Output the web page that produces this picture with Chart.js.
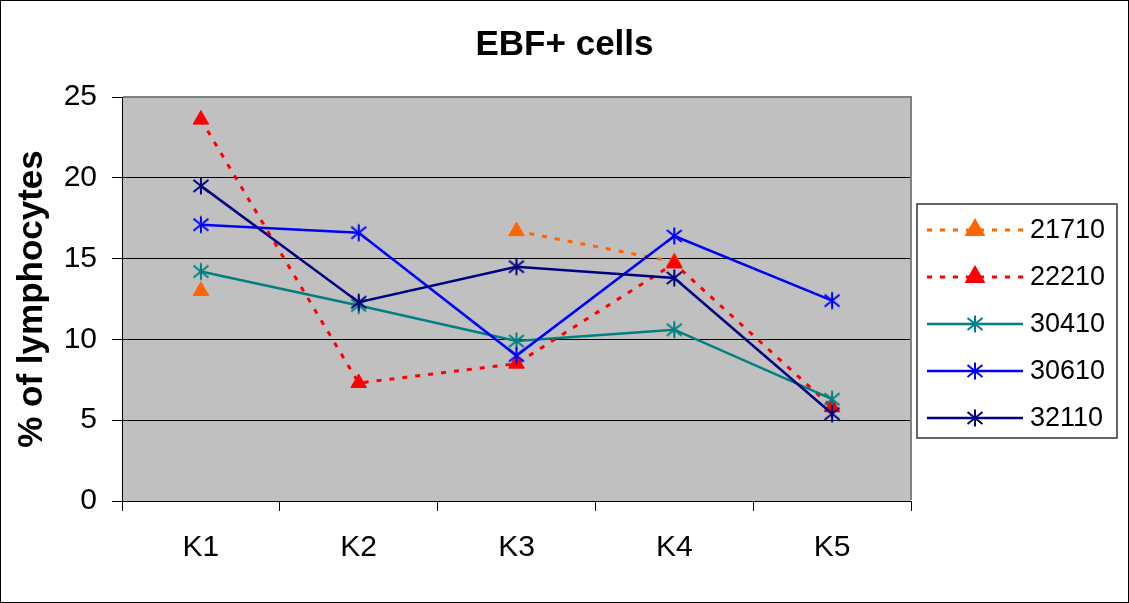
<!DOCTYPE html>
<html>
<head>
<meta charset="utf-8">
<script src="https://cdn.jsdelivr.net/npm/chart.js@4.4.1/dist/chart.umd.min.js"></script>
<style>
    html, body { margin: 0; padding: 0; background: #fff; }
</style>
</head>
<body>
<canvas id="myChart" width="1129" height="603"></canvas>
<script>
// data
const categories = ['K1', 'K2', 'K3', 'K4', 'K5'];
const seriesNames = ['21710', '22210', '30410', '30610', '32110'];
const s21710 = [13.0, null, 16.7, 14.8, null];
const s22210 = [23.6, 7.3, 8.5, 14.7, 5.8];
const s30410 = [14.2, 12.1, 9.9, 10.6, 6.3];
const s30610 = [17.1, 16.6, 9.0, 16.4, 12.4];
const s32110 = [19.5, 12.3, 14.5, 13.8, 5.4];
const yTicks = [0, 5, 10, 15, 20, 25];

const FONT = '"Liberation Sans", Arial, sans-serif';

// excel style asterisk marker (X plus a vertical bar)
function asterisk(color) {
    const c = document.createElement('canvas');
    c.width = 20;
    c.height = 20;
    const g = c.getContext('2d');
    g.strokeStyle = color;
    g.lineWidth = 2;
    g.beginPath();
    g.moveTo(2.5, 4); g.lineTo(17.5, 16);
    g.moveTo(2.5, 16); g.lineTo(17.5, 4);
    g.moveTo(10, 1.5); g.lineTo(10, 18.5);
    g.stroke();
    return c;
}

function dotted(label, data, color) {
    return {
        label: label,
        data: data,
        borderColor: color,
        backgroundColor: color,
        borderWidth: 3,
        borderDash: [5, 8],
        pointStyle: 'triangle',
        pointRadius: 9,
        pointBorderWidth: 1,
        pointBorderColor: color,
        pointBackgroundColor: color,
        spanGaps: false
    };
}

function solid(label, data, color) {
    return {
        label: label,
        data: data,
        borderColor: color,
        backgroundColor: color,
        borderWidth: 2.5,
        pointStyle: asterisk(color),
        pointRadius: 10,
        spanGaps: false
    };
}

const datasets = [
    dotted(seriesNames[0], s21710, '#FF6600'),
    dotted(seriesNames[1], s22210, '#FF0000'),
    solid(seriesNames[2], s30410, '#008080'),
    solid(seriesNames[3], s30610, '#0000FF'),
    solid(seriesNames[4], s32110, '#000080')
];
// later series on top, like the original
datasets.forEach((d, i) => { d.order = datasets.length - 1 - i; });

const frame = {
    id: 'frame',
    beforeDraw(chart) {
        const ctx = chart.ctx;
        const a = chart.chartArea;
        ctx.save();
        ctx.fillStyle = '#fff';
        ctx.fillRect(0, 0, chart.width, chart.height);
        ctx.fillStyle = '#C0C0C0';
        ctx.fillRect(a.left, a.top, a.right - a.left, a.bottom - a.top);
        ctx.restore();
    },
    afterDraw(chart) {
        const ctx = chart.ctx;
        const a = chart.chartArea;
        ctx.save();
        // plot border top / right
        ctx.strokeStyle = '#808080';
        ctx.lineWidth = 2;
        ctx.beginPath();
        ctx.moveTo(a.left + 1, a.top);
        ctx.lineTo(a.right, a.top);
        ctx.lineTo(a.right, a.bottom - 1);
        ctx.stroke();
        // outer border
        ctx.strokeStyle = '#000';
        ctx.lineWidth = 1;
        ctx.strokeRect(0.5, 0.5, chart.width - 1, chart.height - 1);

        // legend box
        const lx = 917, ly = 204, lw = 200, lh = 234;
        ctx.strokeStyle = '#333';
        ctx.lineWidth = 1.5;
        ctx.strokeRect(lx, ly, lw, lh);
        chart.data.datasets.forEach((d, i) => {
            const y = 230 + i * 47;
            ctx.strokeStyle = d.borderColor;
            ctx.lineWidth = d.borderWidth;
            ctx.setLineDash(d.borderDash || []);
            ctx.beginPath();
            ctx.moveTo(927, y);
            ctx.lineTo(1023, y);
            ctx.stroke();
            ctx.setLineDash([]);
            ctx.fillStyle = d.borderColor;
            Chart.helpers.drawPoint(ctx, {
                pointStyle: d.pointStyle,
                radius: d.pointRadius,
                rotation: 0,
                borderWidth: d.pointBorderWidth || 0
            }, 975, y);
            ctx.fillStyle = '#000';
            ctx.font = '27px ' + FONT;
            ctx.textAlign = 'left';
            ctx.textBaseline = 'middle';
            ctx.fillText(d.label, 1030, y + 1);
        });
        ctx.restore();
    }
};

new Chart(document.getElementById('myChart'), {
    type: 'line',
    data: {
        labels: categories,
        datasets: datasets
    },
    options: {
        responsive: false,
        animation: false,
        events: [],
        layout: {
            padding: 0
        },
        scales: {
            x: {
                offset: true,
                ticks: {
                    color: '#000',
                    font: { family: FONT, size: 30 },
                    padding: 19
                },
                grid: {
                    offset: true,
                    drawOnChartArea: false,
                    tickLength: 10,
                    color: '#000'
                },
                border: { color: '#000', width: 1 },
                afterFit: (s) => { s.height = 102; }
            },
            y: {
                min: 0,
                max: 25,
                afterBuildTicks: (s) => { s.ticks = yTicks.map(v => ({ value: v })); },
                ticks: {
                    color: '#000',
                    font: { family: FONT, size: 30 },
                    padding: 15
                },
                grid: {
                    color: '#000',
                    lineWidth: 1,
                    tickLength: 10
                },
                border: { color: '#000', width: 1 },
                title: {
                    display: true,
                    text: '% of lymphocytes',
                    color: '#000',
                    font: { family: FONT, size: 35, weight: 'bold' },
                    padding: { top: 11, bottom: 0 }
                },
                afterFit: (s) => { s.width = 122; }
            },
            // empty axis that only reserves the room where the legend sits
            side: {
                position: 'right',
                min: 0,
                max: 1,
                ticks: { display: false },
                grid: { display: false },
                border: { display: false },
                afterFit: (s) => { s.width = 218; }
            }
        },
        plugins: {
            legend: { display: false },
            tooltip: { enabled: false },
            title: {
                display: true,
                text: 'EBF+ cells',
                color: '#000',
                font: { family: FONT, size: 35, weight: 'bold' },
                padding: { top: 24, bottom: 31 }
            }
        }
    },
    plugins: [frame]
});
</script>
</body>
</html>
